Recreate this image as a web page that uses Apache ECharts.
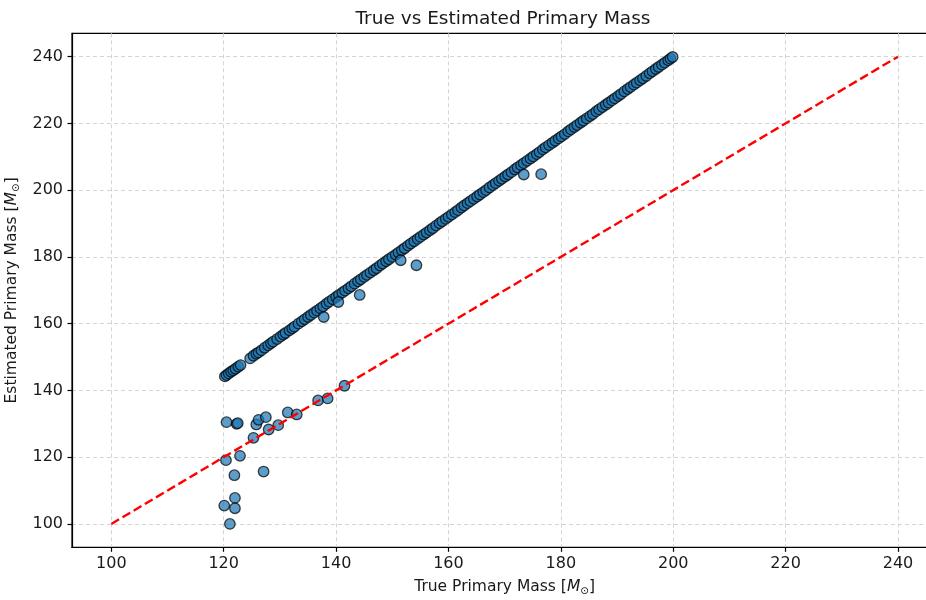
<!DOCTYPE html>
<html>
<head>
<meta charset="utf-8">
<script src="https://cdn.jsdelivr.net/npm/echarts@6/dist/echarts.min.js"></script>
<style>html,body{margin:0;padding:0;background:#fff}#c{width:926px;height:600px}</style>
</head>
<body>
<div id="c"></div>
<script>
// True primary mass (x) of each sample
var trueMass = [
120.2,120.5,120.9,121.3,121.7,122.1,122.6,123.0,124.7,125.3,125.8,126.2,126.7,127.3,127.9,128.4,128.8,129.5,
130.1,130.6,131.0,131.7,132.2,132.6,133.3,133.9,134.4,135.0,135.5,136.1,136.6,137.2,137.7,138.3,138.8,139.4,
140.0,140.5,141.1,141.6,142.2,142.7,143.3,143.9,144.4,145.0,145.5,146.1,146.7,147.2,147.8,148.3,148.9,149.4,
150.0,150.6,151.1,151.7,152.2,152.8,153.3,153.9,154.5,155.0,155.6,156.1,156.7,157.2,157.8,158.4,158.9,159.5,
160.0,160.6,161.2,161.7,162.3,162.8,163.4,163.9,164.5,165.1,165.6,166.2,166.7,167.3,167.9,168.4,169.0,169.5,
170.1,170.6,171.2,171.8,172.3,172.9,173.4,174.0,174.6,175.1,175.7,176.2,176.8,177.3,177.9,178.5,179.0,179.6,
180.1,180.7,181.3,181.8,182.4,182.9,183.5,184.0,184.6,185.2,185.7,186.3,186.8,187.4,188.0,188.5,189.1,189.6,
190.2,190.7,191.3,191.9,192.4,193.0,193.5,194.1,194.6,195.2,195.8,196.3,196.9,197.4,198.0,198.5,199.1,199.5,199.9,
// scattered samples
120.5,122.3,122.5,120.4,122.9,121.9,127.1,122.0,120.1,122.0,121.1,125.3,125.8,126.2,127.5,128.0,129.7,131.4,
133.0,136.8,138.5,141.5,137.8,140.4,144.2,151.5,154.3,173.4,176.5
];
// Estimated primary mass (y) of each sample
var estMass = [
144.2,144.6,145.1,145.6,146.0,146.5,147.1,147.6,149.6,150.4,151.0,151.4,152.0,152.8,153.5,154.1,154.6,155.4,
156.1,156.7,157.2,158.0,158.6,159.1,160.0,160.7,161.3,162.0,162.6,163.3,163.9,164.6,165.2,166.0,166.6,167.3,
168.0,168.6,169.3,169.9,170.6,171.2,172.0,172.7,173.3,174.0,174.6,175.3,176.0,176.6,177.4,178.0,178.7,179.3,
180.0,180.7,181.3,182.0,182.6,183.4,184.0,184.7,185.4,186.0,186.7,187.3,188.0,188.6,189.4,190.1,190.7,191.4,
192.0,192.7,193.4,194.0,194.8,195.4,196.1,196.7,197.4,198.1,198.7,199.4,200.0,200.8,201.5,202.1,202.8,203.4,
204.1,204.7,205.4,206.2,206.8,207.5,208.1,208.8,209.5,210.1,210.8,211.4,212.2,212.8,213.5,214.2,214.8,215.5,
216.1,216.8,217.6,218.2,218.9,219.5,220.2,220.8,221.5,222.2,222.8,223.6,224.2,224.9,225.6,226.2,226.9,227.5,
228.2,228.8,229.6,230.3,230.9,231.6,232.2,232.9,233.5,234.2,235.0,235.6,236.3,236.9,237.6,238.2,238.9,239.4,239.9,
130.5,130.0,130.2,119.1,120.4,114.6,115.7,107.8,105.5,104.7,100.0,125.8,129.8,131.2,132.0,128.3,129.6,133.4,
132.8,137.0,137.6,141.4,162.0,166.5,168.6,179.0,177.5,204.7,204.8
];
// Reference line (perfect estimate)
var refX = [100, 240];
var refY = [100, 240];
// Tick values
var xTicks = [100, 120, 140, 160, 180, 200, 220, 240];
var yTicks = [100, 120, 140, 160, 180, 200, 220, 240];

var pts = trueMass.map(function (x, i) { return [x, estMass[i]]; });
var refPts = refX.map(function (x, i) { return [x, refY[i]]; });

var FONT = 'DejaVu Sans';
var TXT = '#1a1a1a';
var richName = {
  n: { fontFamily: FONT, fontSize: 15.5, color: TXT },
  i: { fontFamily: FONT, fontSize: 15.5, color: TXT, fontStyle: 'italic' },
  s: { fontFamily: FONT, fontSize: 10.5, color: TXT, padding: [8, 0, 0, 0] }
};

function axisCommon(ticks) {
  return {
    type: 'value',
    min: 93,
    max: 247,
    axisLine: { show: true, onZero: false, lineStyle: { color: '#000', width: 1.2 } },
    axisTick: { show: true, inside: false, length: 4.5, customValues: ticks, lineStyle: { color: '#000', width: 1.2 } },
    axisLabel: { show: true, customValues: ticks, margin: 9, fontFamily: FONT, fontSize: 16, color: TXT },
    splitLine: { show: true, lineStyle: { color: '#d4d4d4', width: 1, type: [4, 3] } },
    nameLocation: 'middle',
    nameTextStyle: { fontFamily: FONT, fontSize: 15.5, color: TXT, rich: richName }
  };
}

var xAxis = axisCommon(xTicks);
xAxis.name = '{n|True Primary Mass [}{i|M}{s|⊙}{n|]}';
xAxis.nameGap = 30;
var yAxis = axisCommon(yTicks);
yAxis.name = '{n|Estimated Primary Mass [}{i|M}{s|⊙}{n|]}';
yAxis.nameGap = 45;

var chart = echarts.init(document.getElementById('c'), null, { renderer: 'canvas' });
chart.setOption({
  animation: false,
  backgroundColor: '#fff',
  title: {
    text: 'True vs Estimated Primary Mass',
    left: 498,
    textAlign: 'center',
    top: 5,
    textStyle: { fontFamily: FONT, fontSize: 18.5, fontWeight: 'normal', color: TXT }
  },
  grid: {
    left: 72, right: -11.3, top: 33.3, bottom: 52.7,
    containLabel: false, outerBoundsMode: 'none',
    show: true, borderColor: '#000', borderWidth: 1.2, backgroundColor: 'transparent'
  },
  xAxis: xAxis,
  yAxis: yAxis,
  series: [
    {
      type: 'scatter',
      data: pts,
      symbolSize: 10.5,
      itemStyle: { color: '#1f77b4', opacity: 0.72, borderColor: '#000', borderWidth: 1.3 },
      z: 2
    },
    {
      type: 'line',
      data: refPts,
      symbol: 'none',
      lineStyle: { color: '#ff0000', width: 2.4, type: [9, 4] },
      z: 3
    }
  ]
});
</script>
</body>
</html>
